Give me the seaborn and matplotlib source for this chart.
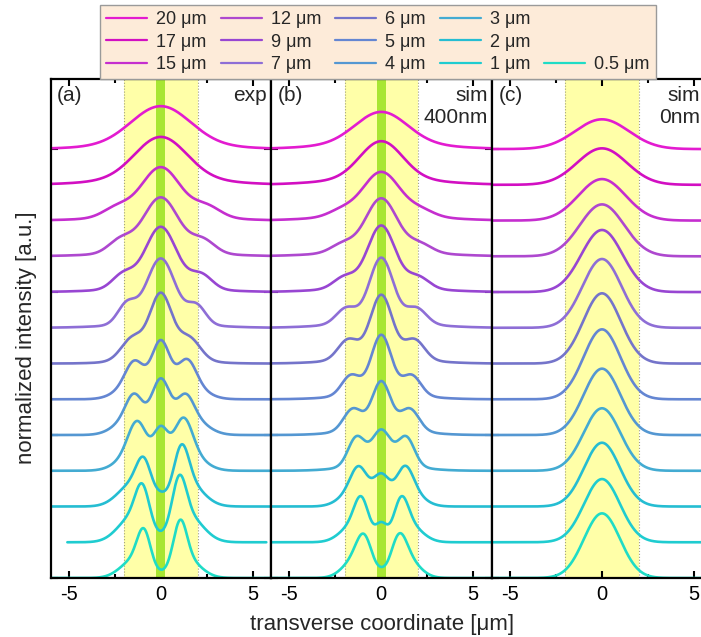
import numpy as np
import pandas as pd
import matplotlib
matplotlib.use("Agg")
import matplotlib.pyplot as plt
import seaborn as sns
from matplotlib.lines import Line2D
from matplotlib.ticker import MultipleLocator

sns.set_theme(style="ticks")
plt.rcParams["font.family"] = ["Liberation Sans", "DejaVu Sans"]
plt.rcParams["axes.unicode_minus"] = False

# ---------------- data ----------------
labels = ["20 μm", "17 μm", "15 μm", "12 μm", "9 μm", "7 μm", "6 μm",
          "5 μm", "4 μm", "3 μm", "2 μm", "1 μm", "0.5 μm"]
colors = ["#E31BD0", "#D20FC2", "#C52ECF", "#AE48CF", "#9846D2", "#8E6ED6",
          "#7474CA", "#6486D2", "#5497D2", "#43ABD2", "#25BDD2", "#1FCCD0", "#1FDCC6"]
offsets = [3.0, 2.75, 2.5, 2.25, 2.0, 1.75, 1.5, 1.25, 1.0, 0.75, 0.5, 0.25, 0.0]

# panel (a) exp : central peak, left/right side lobes, outer wings (pedestal pair)
a_A0 = [0.27, 0.29, 0.338, 0.382, 0.426, 0.455, 0.445, 0.39, 0.37, 0.26, 0.03, 0.0, 0.0]
a_S0 = [1.6, 1.4, 1.05, 0.95, 0.85, 0.78, 0.6, 0.5, 0.5, 0.4, 0.3, 0.3, 0.3]
a_AL = [0.0, 0.0, 0.065, 0.09, 0.10, 0.14, 0.15, 0.19, 0.18, 0.255, 0.22, 0.26, 0.24]
a_AR = [0.0, 0.0, 0.075, 0.09, 0.10, 0.13, 0.15, 0.20, 0.18, 0.28, 0.29, 0.32, 0.29]
a_DL = [0.0, 0.0, 2.4, 2.2, 2.05, 1.85, 1.55, 1.4, 1.43, 1.25, 0.92, 1.0, 0.92]
a_DR = [0.0, 0.0, 2.5, 2.3, 2.2, 1.95, 1.55, 1.4, 1.32, 1.2, 1.12, 1.0, 1.05]
a_S1 = [1.0, 1.0, 0.75, 0.65, 0.6, 0.5, 0.6, 0.5, 0.45, 0.5, 0.4, 0.38, 0.36]
a_AP = [0.015, 0.0225, 0.0175, 0.015, 0.015, 0.015, 0.02, 0.08, 0.11, 0.10, 0.16, 0.18, 0.13]
a_DP = [0.0, 0.0, 0.0, 0.0, 0.0, 0.0, 0.0, 1.7, 1.7, 1.6, 1.5, 1.5, 1.4]
a_SP = [3.2, 3.0, 2.8, 2.8, 2.6, 2.4, 1.8, 0.8, 0.8, 0.8, 0.8, 0.8, 0.75]
a_xmin = [-6.2] * 11 + [-5.1, -6.2]
a_xmax = [6.2] * 11 + [5.75, 6.2]

# panel (b) sim 400nm
b_A0 = [0.22, 0.26, 0.30, 0.37, 0.43, 0.45, 0.44, 0.41, 0.325, 0.235, 0.21, 0.11, 0.02]
b_S0 = [1.4, 1.15, 1.0, 0.85, 0.75, 0.65, 0.6, 0.55, 0.5, 0.5, 0.45, 0.3, 0.25]
b_AL = [0.0, 0.0, 0.04, 0.06, 0.08, 0.11, 0.14, 0.14, 0.15, 0.20, 0.20, 0.22, 0.22]
b_AR = [0.0, 0.0, 0.04, 0.06, 0.08, 0.11, 0.14, 0.14, 0.15, 0.20, 0.20, 0.22, 0.22]
b_DL = [0.0, 0.0, 2.2, 2.1, 2.0, 1.9, 1.8, 1.65, 1.55, 1.35, 1.2, 1.08, 0.92]
b_DR = [0.0, 0.0, 2.2, 2.1, 2.0, 1.9, 1.8, 1.65, 1.55, 1.35, 1.27, 1.08, 0.95]
b_S1 = [1.0, 1.0, 0.7, 0.65, 0.6, 0.55, 0.55, 0.5, 0.5, 0.45, 0.45, 0.38, 0.42]
b_AP = [0.02, 0.0225, 0.02, 0.0175, 0.0175, 0.02, 0.02, 0.02, 0.025, 0.025, 0.09, 0.12, 0.12]
b_DP = [0.0, 0.0, 0.0, 0.0, 0.0, 0.0, 0.0, 0.0, 0.0, 0.0, 1.6, 1.5, 1.45]
b_SP = [3.0, 2.8, 2.8, 2.8, 2.6, 2.4, 2.2, 2.0, 1.8, 1.7, 0.7, 0.7, 0.65]

# panel (c) sim 0nm : single peak
c_A0 = [0.208, 0.255, 0.29, 0.363, 0.434, 0.481, 0.491, 0.489, 0.464, 0.437, 0.446, 0.442, 0.452]
c_S0 = [1.45, 1.35, 1.28, 1.2, 1.12, 1.06, 1.02, 1.0, 1.0, 1.0, 0.98, 0.98, 0.98]

x = np.linspace(-6.2, 6.2, 700)


def g(xx, c, s):
    return np.exp(-(xx - c) ** 2 / (2 * s ** 2))


def build(A0, S0, AL=None, AR=None, DL=None, DR=None, S1=None, AP=None, DP=None,
          SP=None, xmin=None, xmax=None):
    rows = []
    for i, lab in enumerate(labels):
        y = A0[i] * g(x, 0, S0[i])
        if AL is not None:
            y = (y + AL[i] * g(x, -DL[i], S1[i]) + AR[i] * g(x, DR[i], S1[i])
                 + AP[i] * g(x, -DP[i], SP[i]) + AP[i] * g(x, DP[i], SP[i]))
        y = y + offsets[i]
        m = np.ones_like(x, dtype=bool)
        if xmin is not None:
            m = (x >= xmin[i]) & (x <= xmax[i])
        rows.append(pd.DataFrame({"x": x[m], "y": y[m], "size": lab}))
    return pd.concat(rows, ignore_index=True)


df_a = build(a_A0, a_S0, a_AL, a_AR, a_DL, a_DR, a_S1, a_AP, a_DP, a_SP, a_xmin, a_xmax)
df_b = build(b_A0, b_S0, b_AL, b_AR, b_DL, b_DR, b_S1, b_AP, b_DP, b_SP)
df_c = build(c_A0, c_S0)

palette = dict(zip(labels, colors))

# ---------------- figure ----------------
fig = plt.figure(figsize=(7.01, 6.37), dpi=100)
W, H = 701.0, 637.0
bottom_px, top_px = 578.0, 79.0
lefts = [50.5, 271.0, 491.7]
pw = 220.6
axes = []
for lp in lefts:
    ax = fig.add_axes([lp / W, 1 - bottom_px / H, pw / W, (bottom_px - top_px) / H])
    axes.append(ax)

texts = [("(a)", "exp"), ("(b)", "sim\n400nm"), ("(c)", "sim\n0nm")]
right_x = [0.982, 0.982, 0.945]
for k, (ax, df) in enumerate(zip(axes, [df_a, df_b, df_c])):
    ax.axvspan(-2, 2, color="#FFFFA8", zorder=0, lw=0)
    ax.axvline(-2, color="#A0A080", ls=":", lw=0.8, zorder=0.5)
    ax.axvline(2, color="#A0A080", ls=":", lw=0.8, zorder=0.5)
    if k < 2:
        ax.axvspan(-0.25, 0.25, color="#A8E632", zorder=0.6, lw=0)
    sns.lineplot(data=df, x="x", y="y", hue="size", hue_order=labels, palette=palette,
                 ax=ax, legend=False, errorbar=None, estimator=None, sort=False,
                 linewidth=1.9, zorder=2)
    ax.set_xlim(-6, 6)
    ax.set_ylim(0, 3.49)
    ax.xaxis.set_major_locator(MultipleLocator(5))
    ax.xaxis.set_minor_locator(MultipleLocator(2.5))
    ax.set_yticks([0, 1, 2, 3])
    ax.set_yticklabels([])
    ax.set_xlabel("")
    ax.set_ylabel("")
    ax.tick_params(axis="both", which="both", direction="in", top=True, right=True,
                   colors="black", width=1.5, labelsize=14.5, pad=5)
    ax.tick_params(axis="both", which="major", length=5)
    ax.tick_params(axis="both", which="minor", length=3)
    for sp in ax.spines.values():
        sp.set_linewidth(1.6)
        sp.set_color("black")
        sp.set_zorder(3)
    ax.set_facecolor("white")
    ax.text(0.03, 0.985, texts[k][0], transform=ax.transAxes, ha="left", va="top",
            fontsize=15)
    ax.text(right_x[k], 0.985, texts[k][1], transform=ax.transAxes, ha="right", va="top",
            fontsize=15, linespacing=1.2)

fig.text(0.545, 0.02, "transverse coordinate [μm]", ha="center", va="center", fontsize=16)
fig.text(0.038, 0.47, "normalized intensity [a.u.]", ha="center", va="center",
         rotation=90, fontsize=16)

# legend (5 columns, column-major fill, two empty slots before 0.5 μm)
handles = [Line2D([], [], color=c, lw=1.6) for c in colors]
leg_labels = list(labels)
blank = Line2D([], [], color="none")
handles = handles[:12] + [blank, blank] + handles[12:]
leg_labels = leg_labels[:12] + ["", ""] + leg_labels[12:]
leg = fig.legend(handles, leg_labels, loc="upper left", bbox_to_anchor=(100 / W, 1 - 5 / H),
                 borderaxespad=0, ncol=5, frameon=True, facecolor="#FDEBD9",
                 edgecolor="#9A9A9A", fontsize=13, handlelength=2.25, handletextpad=0.5,
                 columnspacing=0.8, labelspacing=0.3, borderpad=0.35, fancybox=False,
                 framealpha=1)
leg.get_frame().set_linewidth(1.0)

fig.savefig("out.png", dpi=100)
